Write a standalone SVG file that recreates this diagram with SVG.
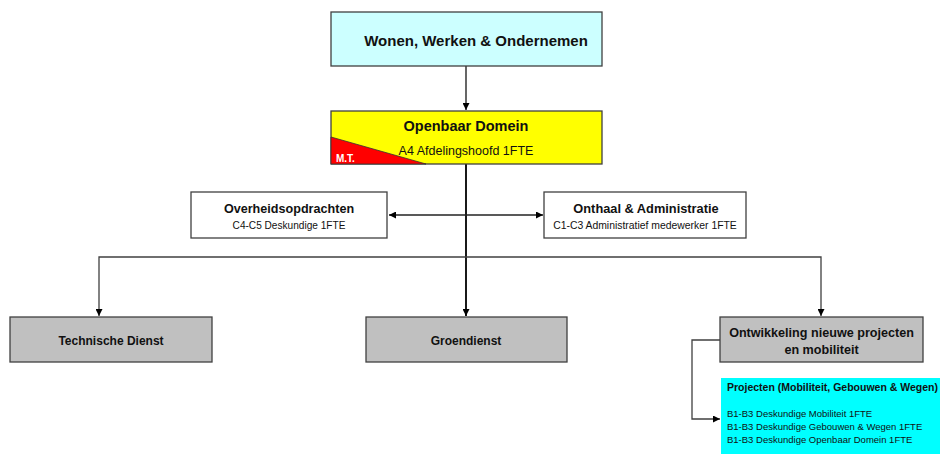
<svg xmlns="http://www.w3.org/2000/svg" width="940" height="454" viewBox="0 0 940 454">
<style>
.box{stroke:#404040;stroke-width:1.3}
.gray{fill:#c0c0c0}
.t{font-family:"Liberation Sans",Arial,sans-serif;fill:#111;text-anchor:middle}
.b{font-weight:bold}
.con{fill:none;stroke:#404040;stroke-width:1.3}
.main{fill:none;stroke:#000;stroke-width:1.8}
</style>
<defs>
<marker id="ah" viewBox="0 0 8 8" refX="8" refY="4" markerWidth="7" markerHeight="7" markerUnits="userSpaceOnUse" orient="auto-start-reverse">
<path d="M0,0 L8,4 L0,8 z" fill="#000"/>
</marker>
</defs>
<rect width="940" height="454" fill="#fff"/>
<g id="connectors">
<line class="main" x1="466" y1="66" x2="466" y2="110" style="stroke-width:1.2" marker-end="url(#ah)"/>
<line class="main" x1="466" y1="164" x2="466" y2="316" marker-end="url(#ah)"/>
<line class="con" x1="389" y1="215" x2="543" y2="215" style="stroke:#222" marker-start="url(#ah)" marker-end="url(#ah)"/>
<polyline class="con" points="99,316 99,257 821,257 821,316" marker-start="url(#ah)" marker-end="url(#ah)"/>
<polyline class="con" points="720,340 692,340 692,419 720,419" marker-end="url(#ah)"/>
</g>
<g id="wonen">
<rect class="box" x="331" y="12" width="271" height="54" fill="#ccffff"/>
<text class="t b" x="476" y="46" font-size="15">Wonen, Werken &amp; Ondernemen</text>
</g>
<g id="openbaar">
<rect class="box" x="331" y="111" width="271" height="53" fill="#ffff00"/>
<polygon points="331,137 331,164 426,164" fill="#ff0000" stroke="#333" stroke-width="0.8"/>
<text class="t b" x="466" y="131" font-size="14.5">Openbaar Domein</text>
<text class="t" x="466" y="155" font-size="12.5">A4 Afdelingshoofd 1FTE</text>
<text class="b" x="336" y="162" font-size="10" fill="#fff" font-family="Liberation Sans,Arial,sans-serif">M.T.</text>
</g>
<g id="overheid">
<rect class="box" x="191" y="192" width="196" height="46" fill="#fff"/>
<text class="t b" x="289" y="213" font-size="12.6">Overheidsopdrachten</text>
<text class="t" x="289" y="229" font-size="10.1">C4-C5 Deskundige 1FTE</text>
</g>
<g id="onthaal">
<rect class="box" x="544" y="192" width="202" height="46" fill="#fff"/>
<text class="t b" x="646" y="213" font-size="12.8">Onthaal &amp; Administratie</text>
<text class="t" x="645" y="229" font-size="10.4">C1-C3 Administratief medewerker 1FTE</text>
</g>
<g id="technische">
<rect class="box gray" x="10" y="317" width="202" height="45"/>
<text class="t b" x="111" y="345" font-size="12">Technische Dienst</text>
</g>
<g id="groendienst">
<rect class="box gray" x="366" y="317" width="201" height="45"/>
<text class="t b" x="466" y="345" font-size="12">Groendienst</text>
</g>
<g id="ontwikkeling">
<rect class="box gray" x="720" y="317" width="203" height="45"/>
<text class="t b" x="821.5" y="337" font-size="12.6">Ontwikkeling nieuwe projecten</text>
<text class="t b" x="821.5" y="354" font-size="12.6">en mobiliteit</text>
</g>
<g id="projecten">
<rect x="721" y="378" width="219" height="76" fill="#00ffff"/>
<text class="b" x="727" y="391" font-size="10.5" fill="#111" font-family="Liberation Sans,Arial,sans-serif">Projecten (Mobiliteit, Gebouwen &amp; Wegen)</text>
<g font-family="Liberation Sans,Arial,sans-serif" font-size="9.5" fill="#111">
<text x="727" y="417">B1-B3 Deskundige Mobiliteit 1FTE</text>
<text x="727" y="430">B1-B3 Deskundige Gebouwen &amp; Wegen 1FTE</text>
<text x="727" y="443">B1-B3 Deskundige Openbaar Domein 1FTE</text>
</g>
</g>
</svg>
